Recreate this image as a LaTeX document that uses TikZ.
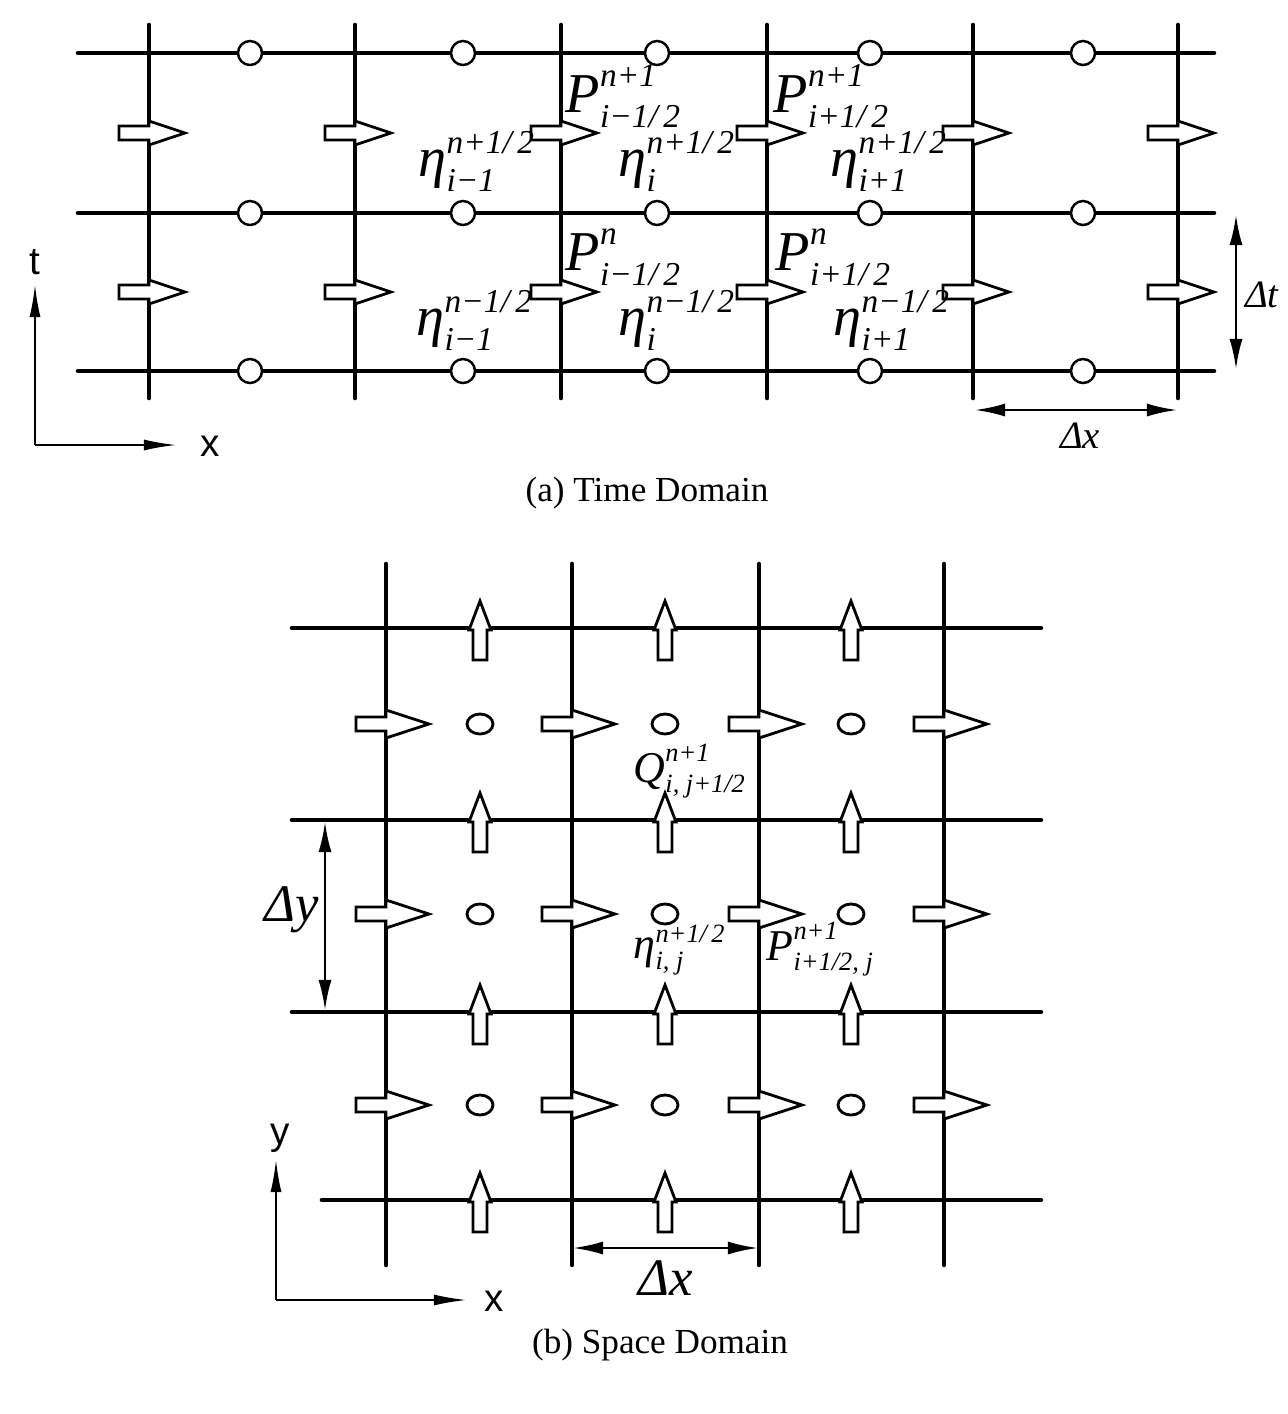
\documentclass[tikz,border=0pt]{standalone}
\usepackage{amsmath}
\usepackage{fontspec}
\setmainfont{Liberation Serif}
\newfontfamily\axisfont{Liberation Sans}
\usetikzlibrary{arrows.meta,shapes.geometric}

\DeclareMathSizes{16}{16}{9.5}{7}
\DeclareMathSizes{12.5}{12.5}{7.5}{5}
\newcommand{\lbig}{\fontsize{16}{19}\selectfont}
\newcommand{\lmid}{\fontsize{12.5}{15}\selectfont}

\tikzset{
  gridline/.style={line width=1.3pt, line cap=round},
  gridpt/.style={circle, draw, line width=0.7pt, fill=white,
               minimum size=0.24cm, inner sep=0pt},
  cell/.style={ellipse, draw, line width=0.8pt, fill=white,
               minimum width=0.26cm, minimum height=0.2cm, inner sep=0pt},
  var/.style={inner sep=0pt, anchor=base west, font=\lbig},
  varb/.style={inner sep=0pt, anchor=base west, font=\lmid},
  dim/.style={line width=0.7pt,
              {Latex[length=0.3cm,width=0.13cm]}-{Latex[length=0.3cm,width=0.13cm]}},
  axis/.style={line width=0.5pt, -{Latex[length=0.32cm,width=0.11cm]}},
  axlbl/.style={font=\axisfont\fontsize{11}{13}\selectfont, inner sep=0pt},
  subcap/.style={font=\fontsize{10}{12}\selectfont, inner sep=0pt},
  % hollow flux arrow, origin at the head base: #1 head length, #2 head half width
  pics/flux/.style 2 args={code={
    \draw[line width=0.8pt, fill=white, line join=miter]
      (-30,-7) -- (0,-7) -- (0,-#2) -- (#1,0) -- (0,#2) -- (0,7) -- (-30,7) -- cycle;
  }},
}

\begin{document}
\begin{tikzpicture}[x=0.01cm, y=-0.01cm]
  \useasboundingbox (0,0) rectangle (1288,1414);

  % ---- (a) time domain
  \foreach \y in {53,213,371}
    \draw[gridline] (78,\y) -- (1214,\y);
  \foreach \x in {149,355,561,767,973,1178}
    \draw[gridline] (\x,25) -- (\x,398);
  \foreach \x in {149,355,561,767,973,1178}
    \foreach \y in {133,292}
      \pic at (\x,\y) {flux={36}{12}};
  \foreach \x [count=\i] in {250,463,657,870,1083}
    \foreach \y [count=\j] in {53,213,371}
      \node[gridpt] (ta-\i-\j) at (\x,\y) {};

  \node[var] (p1) at (565,112) {$\textit{P}^{\textit{n+1}}_{\textit{i−1/\,2}}$};
  \node[var] (p2) at (773,112) {$\textit{P}^{\textit{n+1}}_{\textit{i+1/\,2}}$};
  \node[var] (e1) at (418,176) {$\textit{η}^{\textit{n+1/\,2}}_{\textit{i−1}}$};
  \node[var] (e2) at (618,176) {$\textit{η}^{\textit{n+1/\,2}}_{\textit{i}}$};
  \node[var] (e3) at (830,176) {$\textit{η}^{\textit{n+1/\,2}}_{\textit{i+1}}$};
  \node[var] (p3) at (565,270) {$\textit{P}^{\textit{n}}_{\textit{i−1/\,2}}$};
  \node[var] (p4) at (775,270) {$\textit{P}^{\textit{n}}_{\textit{i+1/\,2}}$};
  \node[var] (e4) at (416,335) {$\textit{η}^{\textit{n−1/\,2}}_{\textit{i−1}}$};
  \node[var] (e5) at (618,335) {$\textit{η}^{\textit{n−1/\,2}}_{\textit{i}}$};
  \node[var] (e6) at (833,335) {$\textit{η}^{\textit{n−1/\,2}}_{\textit{i+1}}$};

  \coordinate (dt1) at (1236,215);
  \coordinate (dt2) at (1236,369);
  \draw[dim] (dt1) -- (dt2);
  \node[font=\fontsize{11}{13}\selectfont\itshape, inner sep=0pt] (dtl) at (1262,295) {Δt};
  \coordinate (dx1) at (975,410);
  \coordinate (dx2) at (1177,410);
  \draw[dim] (dx1) -- (dx2);
  \node[font=\fontsize{11}{13}\selectfont\itshape, inner sep=0pt] (dxl) at (1080,436) {Δx};

  \coordinate (oa) at (35,445);
  \coordinate (ta) at (35,285);
  \coordinate (xa) at (176,445);
  \draw[axis] (oa) -- (ta);
  \draw[axis] (oa) -- (xa);
  \node[axlbl] (tl) at (35,262) {t};
  \node[axlbl] (xl) at (210,446) {x};

  \node[subcap] (capa) at (647,493) {(a) Time Domain};

  % ---- (b) space domain
  \foreach \y in {628,820,1012}
    \draw[gridline] (292,\y) -- (1041,\y);
  \draw[gridline] (322,1200) -- (1041,1200);
  \foreach \x in {386,572,759,944}
    \draw[gridline] (\x,564) -- (\x,1265);
  \foreach \x in {386,572,759,944}
    \foreach \y in {724,914,1105}
      \pic at (\x,\y) {flux={43}{14}};
  \foreach \x in {480,665,851}
    \foreach \y in {630,822,1014,1202}
      \pic[rotate=90] at (\x,\y) {flux={29}{11}};
  \foreach \x [count=\i] in {480,665,851}
    \foreach \y [count=\j] in {724,914,1105}
      \node[cell] (sb-\i-\j) at (\x,\y) {};

  \node[varb] (q1) at (633,782) {$\textit{Q}^{\textit{n+1}}_{\textit{i, j+1/2}}$};
  \node[varb] (e7) at (633,958) {$\textit{η}^{\textit{n+1/\,2}}_{\textit{i, j}}$};
  \node[varb] (p5) at (766,960) {$\textit{P}^{\textit{n+1}}_{\textit{i+1/2, j}}$};

  \coordinate (dy1) at (325,822);
  \coordinate (dy2) at (325,1010);
  \draw[dim] (dy1) -- (dy2);
  \node[font=\fontsize{15}{18}\selectfont\itshape, inner sep=0pt] (dyl) at (292,910) {Δy};
  \coordinate (dx3) at (573,1248);
  \coordinate (dx4) at (758,1248);
  \draw[dim] (dx3) -- (dx4);
  \node[font=\fontsize{15}{18}\selectfont\itshape, inner sep=0pt] (dxl2) at (666,1278) {Δx};

  \coordinate (ob) at (276,1300);
  \coordinate (yb) at (276,1160);
  \coordinate (xb) at (466,1300);
  \draw[axis] (ob) -- (yb);
  \draw[axis] (ob) -- (xb);
  \node[axlbl] (yl) at (280,1138) {y};
  \node[axlbl] (xl2) at (494,1301) {x};

  \node[subcap] (capb) at (660,1345) {(b) Space Domain};
\end{tikzpicture}
\end{document}
